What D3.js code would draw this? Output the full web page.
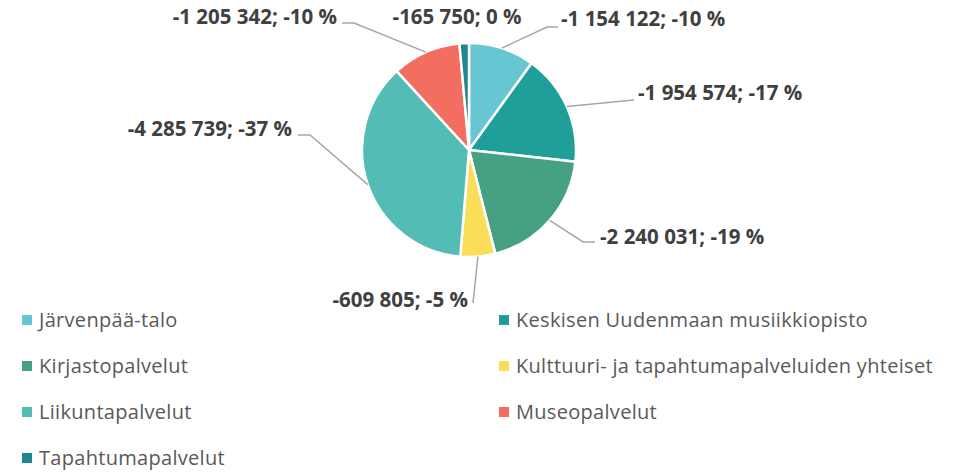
<!DOCTYPE html>
<html><head><meta charset="utf-8">
<script src="https://cdn.jsdelivr.net/npm/d3@7"></script>
<style>
html,body{margin:0;padding:0;background:#fff;}
svg{display:block;}
</style></head>
<body>
<svg id="chart" width="974" height="473"></svg>
<script>
// ---- data ----
const categories = ["Järvenpää-talo","Keskisen Uudenmaan musiikkiopisto","Kirjastopalvelut","Kulttuuri- ja tapahtumapalveluiden yhteiset","Liikuntapalvelut","Museopalvelut","Tapahtumapalvelut"];
const values = [-1154122,-1954574,-2240031,-609805,-4285739,-1205342,-165750];
const percentLabels = ["-10 %","-17 %","-19 %","-5 %","-37 %","-10 %","0 %"];
const colors = ["#66C7D3","#209E99","#46A083","#FADD59","#52BCB5","#F36D60","#21858F"];

// ---- layout (label placement relative to pie center) ----
const cx = 469, cy = 150, R = 107;
const labelLayout = [
  {dx: 92,  dy:-131, anchor:"start", leader:[[78,-123],[89,-123]]},
  {dx: 169, dy:-57,  anchor:"start", leader:[[165,-50]]},
  {dx: 131, dy: 87,  anchor:"start", leader:[[114,92],[126,92]]},
  {dx: -1,  dy: 150, anchor:"end",   leader:[[4,153]]},
  {dx:-177, dy:-21,  anchor:"end",   leader:[[-159,-15],[-171,-15]]},
  {dx:-132, dy:-133, anchor:"end",   leader:[[-115,-127],[-127,-127]]},
  {dx: -12, dy:-133, anchor:"middle",leader:null}
];

const fmt = v => d3.format(",")(v).replace(/,/g," ").replace(/\u2212/g,"-");

const svg = d3.select("#chart");
const g = svg.append("g").attr("transform",`translate(${cx},${cy})`);

const pie = d3.pie().sort(null).value(d=>Math.abs(d));
const arcs = pie(values);
const arc = d3.arc().innerRadius(0).outerRadius(R);

g.selectAll("path.slice").data(arcs).join("path")
  .attr("class","slice")
  .attr("d",arc)
  .attr("fill",(d,i)=>colors[i])
  .attr("stroke","#fff").attr("stroke-width",2.5).attr("stroke-linejoin","round");

// leader lines
const edge = d3.arc().innerRadius(R).outerRadius(R);
arcs.forEach((d,i)=>{
  const L = labelLayout[i];
  if(!L.leader) return;
  const p = edge.centroid(d);
  const pts = [p].concat(L.leader);
  g.append("path").attr("d",d3.line()(pts))
    .attr("fill","none").attr("stroke","#A6A6A6").attr("stroke-width",1.5);
});

// labels
arcs.forEach((d,i)=>{
  const L = labelLayout[i];
  g.append("text")
    .attr("x",L.dx).attr("y",L.dy)
    .attr("dy","0.35em")
    .attr("text-anchor",L.anchor)
    .attr("font-family","'Open Sans', sans-serif")
    .attr("font-weight","bold")
    .attr("font-size",20.5)
    .attr("fill","#404040")
    .text(fmt(values[i]) + "; " + percentLabels[i]);
});

// legend
const legend = svg.append("g");
const colX = [22, 499], rowY = [320, 366, 412, 458];
categories.forEach((c,i)=>{
  const x = colX[i%2], y = rowY[Math.floor(i/2)];
  legend.append("rect").attr("x",x).attr("y",y-5).attr("width",10).attr("height",10).attr("fill",colors[i]);
  legend.append("text").attr("x",x+17).attr("y",y).attr("dy","0.35em")
    .attr("font-family","'Open Sans', sans-serif").attr("font-size",20)
    .attr("letter-spacing",0.3)
    .attr("fill","#595959").text(c);
});
</script>
</body></html>
